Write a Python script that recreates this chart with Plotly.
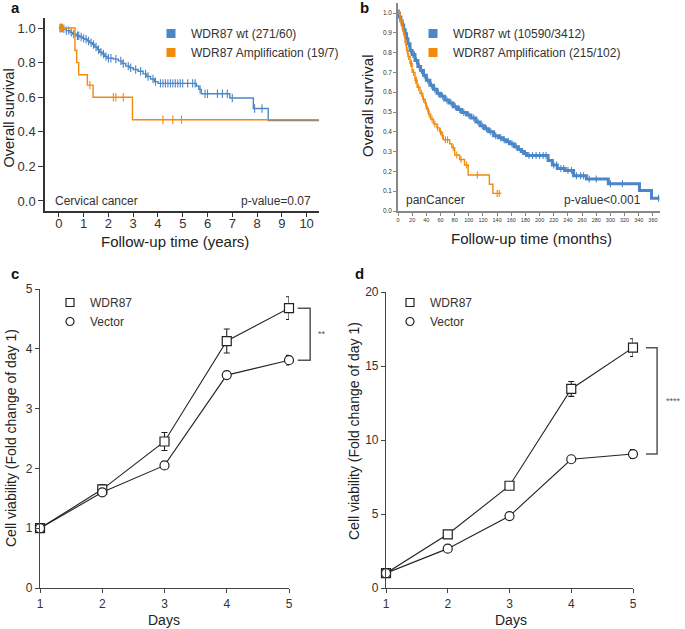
import numpy as np
import plotly.graph_objects as go

# ---------------- data ----------------
# Panel a: Cervical cancer KM (years)
a_wt_t = [0.0, 0.15, 0.3, 0.45, 0.55, 0.7, 0.85, 0.95, 1.05, 1.15, 1.25, 1.35, 1.45, 1.55, 1.65,
          1.75, 1.85, 1.95, 2.2, 2.4, 2.55, 2.7, 2.85, 3.0, 3.2, 3.4, 3.55, 3.7, 3.85, 4.0,
          5.55, 5.65, 5.75, 6.9, 7.85, 8.45]
a_wt_s = [1.0, 0.995, 0.985, 0.975, 0.965, 0.955, 0.948, 0.94, 0.935, 0.925, 0.915, 0.905, 0.89,
          0.875, 0.86, 0.85, 0.835, 0.825, 0.82, 0.81, 0.795, 0.78, 0.77, 0.76, 0.75, 0.735,
          0.72, 0.705, 0.69, 0.68, 0.665, 0.645, 0.62, 0.595, 0.535, 0.465]
a_wt_end = 10.5
a_wt_cens = [0.05, 0.1, 0.2, 0.3, 0.4, 0.5, 0.6, 0.75, 0.8, 0.9, 1.0, 1.1, 1.2, 1.3, 1.4, 1.5,
             1.6, 1.7, 1.8, 1.9, 2.0, 2.1, 2.3, 2.5, 2.6, 2.8, 2.9, 3.1, 3.3, 3.5, 3.6, 3.8,
             3.9, 4.1, 4.2, 4.3, 4.4, 4.5, 4.6, 4.7, 4.8, 4.9, 5.0, 5.2, 5.4, 5.5, 5.7, 5.9,
             6.0, 6.4, 6.6, 6.8, 7.0, 7.9, 8.2]
a_amp_t = [0.0, 0.65, 0.72, 0.8, 1.15, 1.38, 2.97]
a_amp_s = [1.0, 0.87, 0.8, 0.73, 0.67, 0.6, 0.47]
a_amp_end = 10.5
a_amp_cens = [0.05, 0.1, 0.15, 1.25, 2.2, 2.3, 2.6, 4.2, 4.6, 4.95]

# Panel b: panCancer KM (months)
b_wt_t = [0, 2, 4, 6, 8, 10, 12, 14, 17, 20, 24, 28, 32, 36, 40, 45, 50, 55, 60, 66, 72, 78, 84,
          90, 97, 103, 110, 116, 122, 128, 135, 142, 148, 153, 158, 164, 170, 174, 178, 182,
          212, 218, 225, 236, 248, 266, 297, 341, 358]
b_wt_s = [1.0, 0.98, 0.96, 0.94, 0.915, 0.895, 0.87, 0.845, 0.81, 0.79, 0.76, 0.73, 0.71, 0.685,
          0.66, 0.635, 0.615, 0.595, 0.58, 0.56, 0.545, 0.527, 0.512, 0.498, 0.485, 0.47, 0.45,
          0.43, 0.415, 0.40, 0.38, 0.37, 0.36, 0.35, 0.34, 0.325, 0.31, 0.30, 0.29, 0.28,
          0.255, 0.232, 0.215, 0.205, 0.178, 0.162, 0.138, 0.103, 0.064]
b_wt_end = 369
b_wt_cens = [1, 3, 5, 7, 9, 11, 13, 15, 18, 21, 23, 26, 30, 33, 37, 42, 47, 52, 57, 63, 69, 75,
             81, 87, 93, 100, 107, 113, 119, 125, 131, 138, 145, 150, 156, 161, 167, 176, 180,
             185, 190, 195, 200, 205, 209, 220, 224, 230, 234, 240, 245, 252, 258, 262, 270,
             280, 300, 317, 368]
b_amp_t = [0, 3, 6, 8, 10, 12, 14, 17, 20, 24, 27, 31, 35, 38, 40, 43, 46, 50, 55, 59, 62, 64,
           73, 76, 80, 87, 94, 99, 129, 134]
b_amp_s = [1.0, 0.96, 0.92, 0.89, 0.85, 0.81, 0.78, 0.745, 0.70, 0.66, 0.625, 0.595, 0.565,
           0.545, 0.515, 0.49, 0.465, 0.44, 0.42, 0.40, 0.38, 0.36, 0.34, 0.32, 0.283, 0.26,
           0.232, 0.182, 0.135, 0.089]
b_amp_end = 146
b_amp_cens = [2, 4, 7, 9, 11, 13, 15, 18, 19, 22, 25, 26, 29, 33, 36, 39, 42, 44, 48, 52, 56,
              60, 63, 67, 70, 78, 83, 89, 97, 112, 140, 143]

# Panel c / d: cell viability
days = [1, 2, 3, 4, 5]
c_wdr87 = [1.0, 1.65, 2.45, 4.13, 4.68]
c_wdr87_err = [0.05, 0.08, 0.15, 0.2, 0.19]
c_vector = [1.0, 1.60, 2.05, 3.56, 3.81]
c_vector_err = [0.05, 0.05, 0.05, 0.05, 0.08]
d_wdr87 = [1.0, 3.63, 6.91, 13.45, 16.24]
d_wdr87_err = [0.1, 0.15, 0.2, 0.5, 0.6]
d_vector = [1.0, 2.66, 4.86, 8.70, 9.05]
d_vector_err = [0.1, 0.1, 0.1, 0.1, 0.3]

BLUE = "#4a86c8"
ORANGE = "#f28a0a"
FONT = "Liberation Sans, Arial, sans-serif"

W, H = 685, 629


def dom_x(p0, p1):
    return [p0 / W, p1 / W]


def dom_y(top, bottom):
    return [1 - bottom / H, 1 - top / H]


def step_val(times, surv, t):
    i = np.searchsorted(np.array(times), t, side="right") - 1
    return surv[max(i, 0)]


fig = go.Figure()


def km(times, surv, end, cens, color, name, xa, ya, legend, lw, msize):
    fig.add_trace(go.Scatter(x=list(times) + [end], y=list(surv) + [surv[-1]], mode="lines",
                             line=dict(color=color, width=lw, shape="hv"), xaxis=xa, yaxis=ya,
                             showlegend=False, hoverinfo="skip"))
    fig.add_trace(go.Scatter(x=cens, y=[step_val(times, surv, t) for t in cens], mode="markers",
                             marker=dict(symbol="line-ns-open", size=msize, color=color,
                                         line=dict(color=color, width=1.1)),
                             xaxis=xa, yaxis=ya, showlegend=False, hoverinfo="skip"))
    fig.add_trace(go.Scatter(x=[None], y=[None], mode="markers", name=name,
                             marker=dict(symbol="square", size=9, color=color),
                             xaxis=xa, yaxis=ya, legend=legend))


km(a_wt_t, a_wt_s, a_wt_end, a_wt_cens, BLUE, "WDR87 wt (271/60)", "x", "y", "legend", 1.4, 6)
km(a_amp_t, a_amp_s, a_amp_end, a_amp_cens, ORANGE, "WDR87 Amplification (19/7)", "x", "y", "legend", 1.4, 6)
km(b_wt_t, b_wt_s, b_wt_end, b_wt_cens, BLUE, "WDR87 wt (10590/3412)", "x2", "y2", "legend2", 3.0, 5)
km(b_amp_t, b_amp_s, b_amp_end, b_amp_cens, ORANGE, "WDR87 Amplification (215/102)", "x2", "y2", "legend2", 1.4, 5)


def growth(y, err, symbol, name, xa, ya, legend):
    fig.add_trace(go.Scatter(x=days, y=y, mode="lines+markers", cliponaxis=False,
                             line=dict(color="#222", width=1.1),
                             marker=dict(symbol=symbol, size=9, color="white",
                                         line=dict(color="#222", width=1.2)),
                             error_y=dict(type="data", array=err, color="#222", thickness=1.1, width=3),
                             xaxis=xa, yaxis=ya, showlegend=False, hoverinfo="skip"))
    fig.add_trace(go.Scatter(x=[None], y=[None], mode="markers", name=name,
                             marker=dict(symbol=symbol, size=8, color="white",
                                         line=dict(color="#222", width=1.2)),
                             xaxis=xa, yaxis=ya, legend=legend))


growth(c_wdr87, c_wdr87_err, "square", "WDR87", "x3", "y3", "legend3")
growth(c_vector, c_vector_err, "circle", "Vector", "x3", "y3", "legend3")
growth(d_wdr87, d_wdr87_err, "square", "WDR87", "x4", "y4", "legend4")
growth(d_vector, d_vector_err, "circle", "Vector", "x4", "y4", "legend4")

# ---------------- axes ----------------
ax_a = dict(domain=dom_x(45, 319), range=[-0.56, 10.5])
ay_a = dict(domain=dom_y(18, 211), range=[-0.058, 1.058])
ax_b = dict(domain=dom_x(398, 660), range=[0, 370])
ay_b = dict(domain=dom_y(3, 211), range=[0, 1.0505])
ax_c = dict(domain=dom_x(40, 289), range=[1, 5])
ay_c = dict(domain=dom_y(289, 588), range=[0, 5])
ax_d = dict(domain=dom_x(386, 633), range=[1, 5])
ay_d = dict(domain=dom_y(292, 588), range=[0, 20])


def axis(base, anchor, tickvals, ticktext=None, tsize=13, lc="#333", lw=1.5, tlen=4, tstand=0):
    d = dict(base)
    d.update(anchor=anchor, showline=True, linecolor=lc, linewidth=lw, ticks="outside",
             ticklen=tlen, tickcolor=lc, tickwidth=1, showgrid=False, zeroline=False,
             tickvals=tickvals, ticktext=ticktext, automargin=False, ticklabelstandoff=tstand,
             tickfont=dict(family=FONT, size=tsize, color="#333"))
    return d


a_xt = list(range(0, 11))
a_yt = [0, 0.2, 0.4, 0.6, 0.8, 1.0]
b_xt = list(range(0, 361, 20))
b_yt = [i / 10 for i in range(11)]

layout_axes = dict(
    xaxis=axis(ax_a, "y", a_xt, tsize=13, tlen=4, tstand=-4),
    yaxis=axis(ay_a, "x", a_yt, [f"{v:.1f}" for v in a_yt], tsize=13, tlen=5),
    xaxis2=axis(ax_b, "y2", b_xt, tsize=5.5, lc="#888", tlen=3),
    yaxis2=axis(ay_b, "x2", b_yt, [f"{v:.1f}" for v in b_yt], tsize=6.5, lc="#888", tlen=3),
    xaxis3=axis(ax_c, "y3", days, tsize=12, lc="#444", lw=1.2),
    yaxis3=axis(ay_c, "x3", [0, 1, 2, 3, 4, 5], tsize=12, lc="#444", lw=1.2),
    xaxis4=axis(ax_d, "y4", days, tsize=12, lc="#444", lw=1.2),
    yaxis4=axis(ay_d, "x4", [0, 5, 10, 15, 20], tsize=12, lc="#444", lw=1.2),
)


def px(v, ax):
    d, r = ax["domain"], ax["range"]
    return d[0] + (v - r[0]) / (r[1] - r[0]) * (d[1] - d[0])


shapes = []


def bracket(top, bot, x0, x1, axx, axy, color="#555"):
    xa0, xa1 = px(x0, axx), px(x1, axx)
    yt, yb = px(top, axy), px(bot, axy)
    path = f"M{xa0},{yt} L{xa1},{yt} L{xa1},{yb} L{xa0},{yb}"
    shapes.append(dict(type="path", path=path, xref="paper", yref="paper",
                       line=dict(color=color, width=1.5)))


bracket(c_wdr87[-1], c_vector[-1], 5.14, 5.34, ax_c, ay_c)
bracket(d_wdr87[-1], d_vector[-1], 5.21, 5.39, ax_d, ay_d)

ann = []


def ptext(text, xp_, yp_, size, color="#222", angle=0, bold=False):
    ann.append(dict(text=f"<b>{text}</b>" if bold else text, x=xp_ / W, y=1 - yp_ / H,
                    xref="paper", yref="paper", xanchor="center", yanchor="middle",
                    textangle=angle, showarrow=False,
                    font=dict(family=FONT, size=size, color=color)))


# panel letters
ptext("a", 15, 7, 15, "#111", bold=True)
ptext("b", 364, 7, 15, "#111", bold=True)
ptext("c", 15, 273, 15, "#111", bold=True)
ptext("d", 359, 273, 15, "#111", bold=True)

# axis titles
ptext("Follow-up time (years)", 175, 241, 15)
ptext("Overall survival", 8.5, 118, 14.5, angle=-90)
ptext("Follow-up time (months)", 531, 238, 15)
ptext("Overall survival", 367, 106, 15, angle=-90)
ptext("Days", 164, 620, 14)
ptext("Cell viability (Fold change of day 1)", 11, 438, 14, angle=-90)
ptext("Days", 511, 620, 14)
ptext("Cell viability (Fold change of day 1)", 354, 431, 14, angle=-90)

ann.append(dict(text="Cervical cancer", x=0.029, y=0, xref="x domain", yref="y", xanchor="left",
                showarrow=False, font=dict(family=FONT, size=12, color="#333")))
ann.append(dict(text="p-value=0.07", x=0.978, y=0, xref="x domain", yref="y", xanchor="right",
                showarrow=False, font=dict(family=FONT, size=12, color="#333")))
ann.append(dict(text="panCancer", x=0.023, y=0.056, xref="x2 domain", yref="y2", xanchor="left",
                showarrow=False, font=dict(family=FONT, size=12, color="#333")))
ann.append(dict(text="p-value<0.001", x=0.935, y=0.056, xref="x2 domain", yref="y2", xanchor="right",
                showarrow=False, font=dict(family=FONT, size=12, color="#333")))
ann.append(dict(text="**", x=px(5.44, ax_c), y=(c_wdr87[-1] + c_vector[-1]) / 2, xref="paper", yref="y3",
                xanchor="left", showarrow=False, font=dict(family=FONT, size=9, color="#555")))
ann.append(dict(text="****", x=px(5.5, ax_d), y=(d_wdr87[-1] + d_vector[-1]) / 2, xref="paper", yref="y4",
                xanchor="left", showarrow=False, font=dict(family=FONT, size=9, color="#555")))


def leg(x, y, size=12, gap=0):
    return dict(x=x, y=y, xanchor="left", yanchor="top", bgcolor="rgba(0,0,0,0)",
                font=dict(family=FONT, size=size, color="#333"), tracegroupgap=gap,
                itemsizing="trace")


fig.update_layout(
    width=W, height=H, margin=dict(l=0, r=0, t=0, b=0),
    paper_bgcolor="white", plot_bgcolor="white",
    font=dict(family=FONT),
    legend=leg(151 / W, 1 - 19 / H),
    legend2=leg(413 / W, 1 - 19 / H),
    legend3=leg(50 / W, 1 - 288 / H),
    legend4=leg(390 / W, 1 - 288 / H),
    shapes=shapes, annotations=ann,
    **layout_axes,
)

fig.write_html("out.html", config={"displayModeBar": False},
               post_script="document.body.style.margin='0';document.body.style.padding='0';"
                           "document.documentElement.style.overflow='hidden';")
